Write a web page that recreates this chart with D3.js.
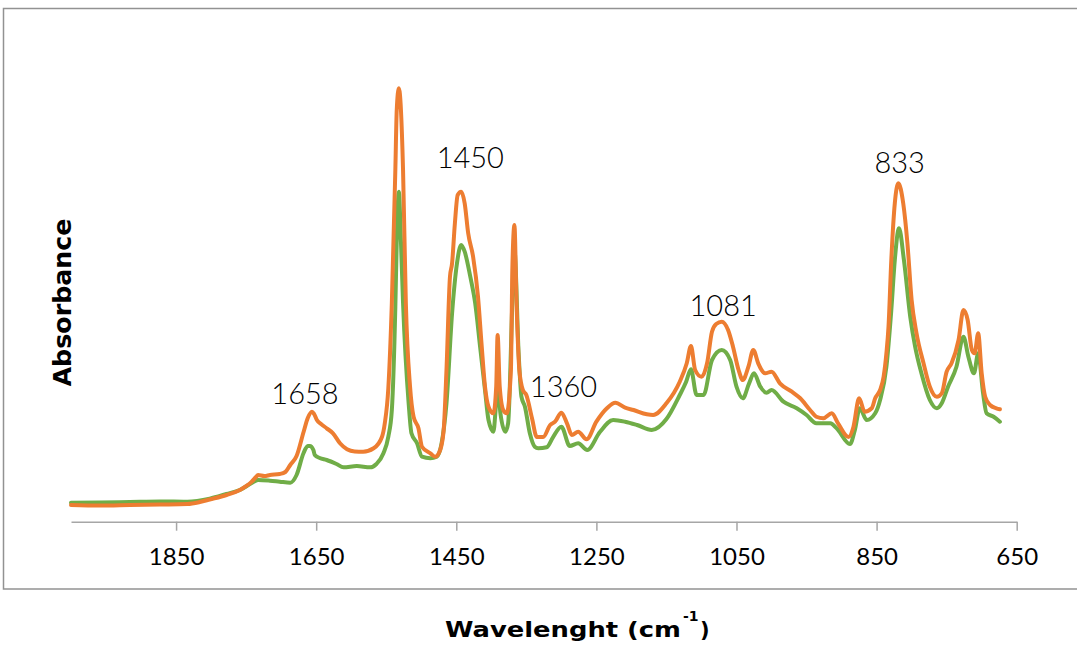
<!DOCTYPE html>
<html>
<head>
<meta charset="utf-8">
<script src="https://cdn.jsdelivr.net/npm/d3@7/dist/d3.min.js"></script>
<style>
  html, body { margin: 0; padding: 0; background: #ffffff; }
  svg { display: block; }
</style>
</head>
<body>
<svg id="chart" width="1077" height="646"></svg>
<script>
// ---- data (wavenumber in cm-1, absorbance in a.u.) ----
const tickValues = [1850, 1650, 1450, 1250, 1050, 850, 650];

const orangeWn = [2000,1959,1916,1873,1834,1816,1802,1778,1759,1742,1736,1733,1724,1716,1702,1694,1687,1678,1668,1662,1656,1653,1649,1643,1635,1626,1616,1606,1595,1583,1568,1556,1552,1547,1542,1537,1535,1532,1529,1526,1522,1516,1511,1504,1499,1487,1480,1473,1468,1464,1459,1456,1452,1448,1443,1438,1433,1426,1419,1414,1409,1404,1397,1393,1391,1388,1383,1378,1372,1370,1367,1364,1360,1355,1350,1342,1335,1326,1316,1309,1300,1292,1285,1276,1264,1250,1235,1223,1209,1197,1178,1169,1150,1131,1121,1115,1109,1100,1092,1085,1079,1071,1062,1055,1047,1041,1033,1026,1019,1009,1000,988,971,959,945,936,926,914,905,890,883,875,867,857,852,845,840,836,833,829,824,819,812,806,800,793,783,774,764,757,750,743,733,726,720,714,710,705,700,695,688,679,674];
const orangeAbs = [0.0334,0.0324,0.0334,0.0344,0.0354,0.0394,0.0444,0.0534,0.0634,0.080,0.0894,0.0934,0.0914,0.0934,0.0954,0.0994,0.1134,0.1314,0.1794,0.2074,0.220,0.2154,0.2034,0.1954,0.1868,0.1768,0.1568,0.1448,0.1404,0.140,0.1468,0.170,0.1974,0.2674,0.4374,0.7034,0.8234,0.8668,0.8234,0.7034,0.4374,0.270,0.210,0.1868,0.150,0.1368,0.130,0.1434,0.1834,0.3034,0.490,0.5168,0.5968,0.6534,0.660,0.6368,0.5768,0.530,0.450,0.3568,0.270,0.230,0.2168,0.270,0.3734,0.270,0.2234,0.2168,0.3034,0.5034,0.5934,0.4368,0.3034,0.2634,0.2534,0.2074,0.1694,0.1694,0.1934,0.200,0.218,0.1968,0.1734,0.180,0.1648,0.200,0.2268,0.238,0.228,0.2234,0.2148,0.2134,0.2368,0.280,0.3168,0.3514,0.3034,0.290,0.3168,0.380,0.3954,0.400,0.3834,0.350,0.3034,0.2834,0.310,0.3434,0.3168,0.2968,0.300,0.2768,0.260,0.2468,0.2234,0.210,0.2068,0.2168,0.1968,0.1694,0.190,0.2468,0.220,0.2268,0.2468,0.2634,0.290,0.3368,0.390,0.5234,0.6368,0.6768,0.6368,0.5568,0.4434,0.3768,0.3168,0.270,0.250,0.2568,0.300,0.3168,0.3634,0.4234,0.4034,0.3434,0.3368,0.3768,0.2968,0.250,0.2334,0.2268,0.2248];

const greenWn = [2000,1959,1916,1873,1834,1802,1778,1759,1742,1733,1716,1702,1687,1678,1668,1662,1659,1654,1652,1645,1635,1621,1611,1592,1573,1564,1554,1547,1542,1537,1535,1532,1529,1526,1518,1514,1506,1499,1487,1478,1471,1464,1456,1449,1443,1438,1430,1423,1416,1409,1404,1397,1393,1390,1387,1380,1376,1370,1367,1361,1357,1352,1345,1338,1333,1321,1312,1300,1288,1276,1263,1245,1226,1209,1192,1171,1150,1131,1122,1115,1107,1097,1085,1071,1059,1050,1041,1032,1025,1016,1007,1000,983,964,950,936,916,907,888,881,874,864,852,845,836,829,824,818,811,802,795,786,774,764,757,748,736,726,719,711,705,698,693,683,674];
const greenAbs = [0.038,0.0384,0.0394,0.0404,0.040,0.046,0.0554,0.0634,0.0774,0.0834,0.082,0.080,0.078,0.0934,0.1374,0.1514,0.1514,0.1434,0.1334,0.1274,0.1234,0.1154,0.1088,0.1114,0.1088,0.1154,0.1368,0.170,0.2234,0.43,0.56,0.660,0.56,0.4374,0.2368,0.1768,0.1568,0.130,0.1268,0.130,0.1568,0.2368,0.4168,0.5168,0.5534,0.540,0.490,0.4368,0.350,0.2634,0.2034,0.180,0.2368,0.2634,0.2168,0.180,0.1968,0.4368,0.5434,0.3368,0.250,0.230,0.1768,0.150,0.1468,0.1488,0.1688,0.190,0.1514,0.1568,0.1434,0.1794,0.2034,0.200,0.1934,0.1834,0.2054,0.2534,0.2794,0.3048,0.2534,0.2534,0.3234,0.3434,0.3234,0.270,0.2468,0.2768,0.2968,0.270,0.258,0.2634,0.240,0.2268,0.2134,0.1968,0.1968,0.1868,0.1554,0.1834,0.2268,0.2034,0.2168,0.2434,0.310,0.4234,0.5234,0.5868,0.5234,0.410,0.350,0.2968,0.2434,0.2268,0.2368,0.270,0.310,0.370,0.330,0.2968,0.3368,0.2568,0.2168,0.210,0.200];

const peakLabels   = ["1658", "1450", "1360", "1081", "833"];
const peakLabelWn  = [1666, 1430, 1297, 1069, 817];
const peakLabelAbs = [0.2348, 0.7068, 0.2488, 0.4114, 0.6974];

// ---- drawing ----
const svg = d3.select("#chart");
const W = 1077, H = 646;

const x = d3.scaleLinear().domain([2000, 650]).range([71, 1016.7]);
const y = d3.scaleLinear().domain([0, 1]).range([521.7, 21.7]);

// chart-area frame
svg.append("rect")
  .attr("x", 3.5).attr("y", 8.5)
  .attr("width", W + 10).attr("height", 580.5)
  .attr("fill", "#ffffff")
  .attr("stroke", "#929292").attr("stroke-width", 1.5);

// x axis
const xAxis = d3.axisBottom(x)
  .tickValues(tickValues)
  .tickFormat(d3.format("d"))
  .tickSizeInner(9).tickSizeOuter(0)
  .tickPadding(17);

const gx = svg.append("g")
  .attr("transform", `translate(0,${y(0)})`)
  .call(xAxis);
gx.select(".domain").attr("stroke", "#a6a6a6").attr("stroke-width", 1.5);
gx.selectAll(".tick line").attr("stroke", "#a6a6a6").attr("stroke-width", 1.5);
gx.selectAll(".tick text")
  .attr("fill", "#000")
  .style("font-family", "Lato, 'Open Sans', sans-serif")
  .style("font-size", "24px");

// series lines
const line = d3.line()
  .x(d => x(d[0]))
  .y(d => y(d[1]))
  .curve(d3.curveMonotoneX);

const greenData = greenWn.map((w, i) => [w, greenAbs[i]]);
const orangeData = orangeWn.map((w, i) => [w, orangeAbs[i]]);

svg.append("path")
  .datum(greenData)
  .attr("d", line)
  .attr("fill", "none")
  .attr("stroke", "#70AD47")
  .attr("stroke-width", 4)
  .attr("stroke-linejoin", "round")
  .attr("stroke-linecap", "round");

svg.append("path")
  .datum(orangeData)
  .attr("d", line)
  .attr("fill", "none")
  .attr("stroke", "#ED7D31")
  .attr("stroke-width", 4)
  .attr("stroke-linejoin", "round")
  .attr("stroke-linecap", "round");

// peak annotations
svg.append("g").selectAll("text")
  .data(peakLabels)
  .join("text")
  .attr("x", (d, i) => x(peakLabelWn[i]))
  .attr("y", (d, i) => y(peakLabelAbs[i]))
  .attr("text-anchor", "middle")
  .style("font-family", "Lato, 'Liberation Sans', sans-serif")
  .style("font-weight", "300")
  .style("font-size", "29px")
  .attr("fill", "#000")
  .text(d => d);

// axis titles
svg.append("text")
  .attr("transform", "translate(71,302.5) rotate(-90)")
  .attr("text-anchor", "middle")
  .attr("textLength", 168)
  .attr("lengthAdjust", "spacingAndGlyphs")
  .style("font-family", "'DejaVu Sans', sans-serif")
  .style("font-weight", "700")
  .style("font-size", "25px")
  .attr("fill", "#000")
  .text("Absorbance");

const titleFont = "'DejaVu Sans', sans-serif";
svg.append("text")
  .attr("x", 445).attr("y", 636.7)
  .attr("textLength", 236)
  .attr("lengthAdjust", "spacingAndGlyphs")
  .style("font-family", titleFont)
  .style("font-weight", "700")
  .style("font-size", "21px")
  .attr("fill", "#000")
  .text("Wavelenght (cm");
svg.append("text")
  .attr("x", 683).attr("y", 621)
  .style("font-family", titleFont)
  .style("font-weight", "700")
  .style("font-size", "14px")
  .attr("fill", "#000")
  .text("-1");
svg.append("text")
  .attr("x", 700).attr("y", 636.7)
  .style("font-family", titleFont)
  .style("font-weight", "700")
  .style("font-size", "21px")
  .attr("fill", "#000")
  .text(")");
</script>
</body>
</html>
